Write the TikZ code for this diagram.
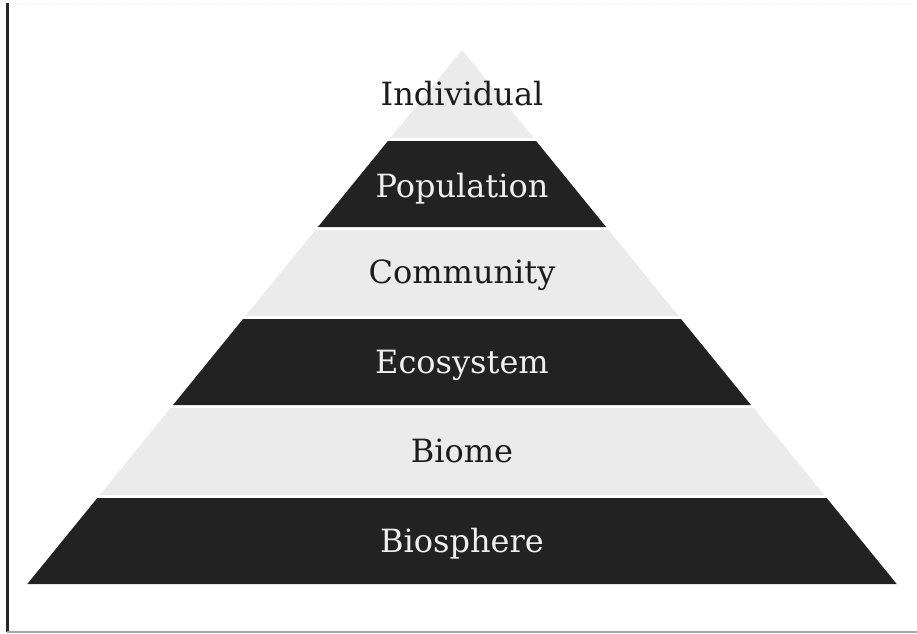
\documentclass[tikz,border=0pt]{standalone}
\usepackage{fontspec}
\setmainfont{DejaVu Serif}
\definecolor{darkband}{HTML}{222222}
\definecolor{lightband}{HTML}{EBEBEB}
\definecolor{darktext}{HTML}{1C1C1C}
\definecolor{lighttext}{HTML}{EFEFEF}
\tikzset{
  bandlight/.style={fill=lightband, draw=none},
  banddark/.style={fill=darkband, draw=none},
  lbl/.style={anchor=base, inner sep=0pt, font=\fontsize{32}{32}\selectfont},
  onlight/.style={lbl, text=darktext},
  ondark/.style={lbl, text=lighttext}
}
\begin{document}
\begin{tikzpicture}[x=1pt,y=-1pt]
\useasboundingbox (0,0) rectangle (917,633);
\fill[white] (0,0) rectangle (917,633);
% frame
\draw[line width=1pt, draw=black!8, dotted] (8,3) -- (917,3);
\draw[line width=3pt, draw=black!85] (7,3) -- (7,632);
\draw[line width=1.5pt, draw=black!35] (7,632) -- (917,632);
% bands
\path[bandlight] (462,50) -- (533.6,138) -- (390.4,138) -- cycle;
\path[banddark] (387.9,141) -- (536.1,141) -- (606.1,227) -- (317.9,227) -- cycle;
\path[bandlight] (315.5,230) -- (608.5,230) -- (678.5,316) -- (245.5,316) -- cycle;
\path[banddark] (243,319) -- (681,319) -- (751,405) -- (173,405) -- cycle;
\path[bandlight] (170.6,408) -- (753.4,408) -- (824.2,495) -- (99.8,495) -- cycle;
\path[banddark] (97.3,498) -- (826.7,498) -- (896.7,584) -- (27.3,584) -- cycle;
% labels
\node[onlight] (individual) at (462,105) {Individual};
\node[ondark] (population) at (462,197) {Population};
\node[onlight] (community) at (462,283) {Community};
\node[ondark] (ecosystem) at (462,373) {Ecosystem};
\node[onlight] (biome) at (462,462) {Biome};
\node[ondark] (biosphere) at (462,552) {Biosphere};
\end{tikzpicture}
\end{document}
